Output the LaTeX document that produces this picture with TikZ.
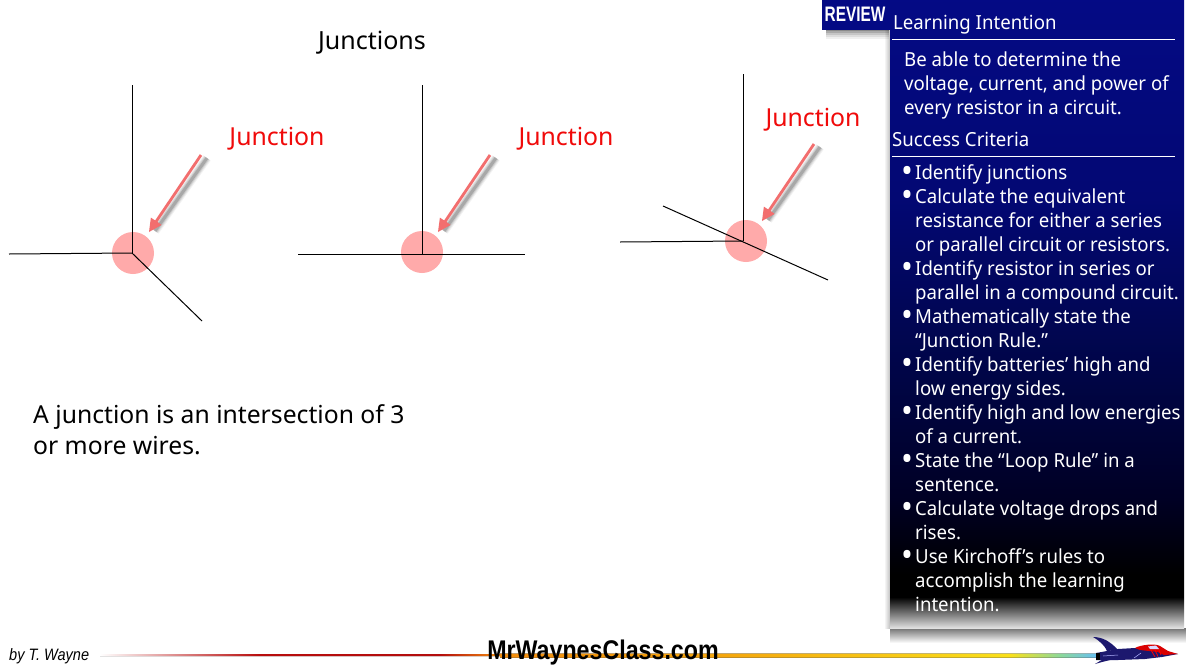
\documentclass[tikz,border=0pt]{standalone}
\usepackage{fontspec}
\usepackage{xcolor}
\usetikzlibrary{calc}
\setmainfont{Noto Sans}
\newfontfamily\paneltype[FakeStretch=0.96]{Noto Sans}
\newfontfamily\logofont[FakeStretch=0.86]{Liberation Sans}
\newfontfamily\tagfont[FakeStretch=0.733]{Liberation Sans}
\newfontfamily\bylinefont[FakeStretch=0.88]{Liberation Sans}
\definecolor{panelNavy}{RGB}{4,10,132}
\definecolor{junctionRed}{RGB}{240,10,10}
\definecolor{spotPink}{RGB}{255,170,170}
\definecolor{arrowPink}{RGB}{242,110,110}
\definecolor{rocketBlue}{RGB}{28,24,110}
\pgfdeclareverticalshading{panelfade}{100bp}{
    rgb(0bp)=(0.88,0.88,0.88);
    rgb(25bp)=(0.88,0.88,0.88);
    rgb(27.47bp)=(0,0,0);
    rgb(29.22bp)=(0,0,0);
    rgb(35.19bp)=(0,0,0.14);
    rgb(44.75bp)=(0,0.02,0.27);
    rgb(59.08bp)=(0.01,0.03,0.45);
    rgb(75bp)=(0.016,0.04,0.52);
    rgb(100bp)=(0.016,0.04,0.52)}
\pgfdeclarehorizontalshading{stripefade}{100bp}{
    rgb(0bp)=(1,1,1);
    rgb(25bp)=(1,1,1);
    rgb(33.02bp)=(0.72,0.05,0.05);
    rgb(42.05bp)=(0.7,0.05,0.05);
    rgb(45.06bp)=(0.95,0.55,0.05);
    rgb(56.09bp)=(0.96,0.65,0.05);
    rgb(70.64bp)=(0.98,0.88,0.1);
    rgb(73.14bp)=(0.55,0.85,0.6);
    rgb(75bp)=(0.4,0.75,0.95);
    rgb(100bp)=(0.4,0.75,0.95)}
\tikzset{
    wire/.style={line width=1pt, black},
    spot/.style={fill=spotPink},
    pointer/.style={line width=2.8pt, arrowPink},
    label/.style={junctionRed, font=\fontsize{24.8}{28}\selectfont},
    paneltext/.style={white, anchor=north west, align=left, inner sep=0pt,
        font=\paneltype\fontsize{19.4}{24}\selectfont},
    panelhead/.style={white, anchor=west, inner sep=0pt, font=\paneltype\fontsize{19.4}{24}\selectfont},
}
\newcommand{\blt}{\llap{\smash{\raisebox{-3.4pt}{\scalebox{1.7}{\textbullet}}}\hspace{1.5pt}}}
% arrow with soft shadow: tail, head
\newcommand{\softarrow}[2]{
    \foreach \w/\o in {9/0.05,7/0.07,5/0.1,3/0.16}
        \draw[line width=\w pt, black, opacity=\o] ($(#1)+(6,3)$) -- ($(#2)+(6,-1)$);
    \draw[pointer] (#1) -- ($(#2)!9pt!(#1)$);
    \fill[arrowPink] (#2) -- ($(#2)!13pt!(#1)!6.5pt!90:(#1)$)
        -- ($(#2)!13pt!(#1)!6.5pt!-90:(#1)$) -- cycle;
}
\begin{document}
\begin{tikzpicture}[x=1pt, y=-1pt]
    \useasboundingbox (0,0) rectangle (1186,667);
    \fill[white] (0,0) rectangle (1186,667);

    % Title
    \node (title) at (372,43) {\fontsize{25}{28}\selectfont Junctions};

    % First junction
    \coordinate (a) at (132,253);
    \coordinate (aUp) at (132,85);
    \coordinate (aLeft) at (9,254);
    \coordinate (aDown) at (202,321);
    \fill[spot] (133,253) circle (21);
    \draw[wire] (aUp) -- (a);
    \draw[wire] (aLeft) -- (a);
    \draw[wire] (a) -- (aDown);
    \coordinate (aTail) at (201,155);
    \coordinate (aHead) at (149,232);
    \softarrow{aTail}{aHead}
    \node[label] (aLabel) at (277,139) {Junction};

    % Second junction
    \coordinate (b) at (422,254);
    \coordinate (bUp) at (422,85);
    \coordinate (bLeft) at (298,254);
    \coordinate (bRight) at (525,254);
    \fill[spot] (422,252) circle (21);
    \draw[wire] (bUp) -- (b);
    \draw[wire] (bLeft) -- (bRight);
    \coordinate (bTail) at (490,155);
    \coordinate (bHead) at (438,232);
    \softarrow{bTail}{bHead}
    \node[label] (bLabel) at (566,139) {Junction};

    % Third junction
    \coordinate (c) at (743,241);
    \coordinate (cUp) at (743,74);
    \coordinate (cLeft) at (620,242);
    \coordinate (cFar) at (663,206);
    \coordinate (cNear) at (828,280);
    \fill[spot] (746,241) circle (21);
    \draw[wire] (cUp) -- (c);
    \draw[wire] (cLeft) -- (c);
    \draw[wire] (cFar) -- (cNear);
    \coordinate (cTail) at (814,144);
    \coordinate (cHead) at (762,221);
    \softarrow{cTail}{cHead}
    \node[label] (cLabel) at (813,120) {Junction};

    % Definition
    \node[anchor=north west, align=left, inner sep=0pt, font=\fontsize{24.7}{31}\selectfont] (defn) at (33,404)
        {A junction is an intersection of 3\\or more wires.};

    % Side panel
    \shade[left color=white, right color=black!25] (884,30) rectangle (890,628);
    \shade[top color=black!55, bottom color=white] (890,628) rectangle (1186,643);
    \fill[shading=panelfade] (890,0) rectangle (1184,628);

    \node[panelhead] (intent) at (893,25) {Learning Intention};
    \draw[white, line width=1pt] (892,39) -- (1175,39);
    \node[paneltext] (intentText) at (904,52)
        {Be able to determine the\\voltage, current, and power of\\every resistor in a circuit.};
    \node[panelhead] (success) at (892,139) {Success Criteria};
    \draw[white, line width=1pt] (892,156) -- (1175,156);
    \node[paneltext] (criteria) at (915,164) {%
        \blt Identify junctions\\
        \blt Calculate the equivalent\\
        resistance for either a series\\
        or parallel circuit or resistors.\\
        \blt Identify resistor in series or\\
        parallel in a compound circuit.\\
        \blt Mathematically state the\\
        “Junction Rule.”\\
        \blt Identify batteries’ high and\\
        low energy sides.\\
        \blt Identify high and low energies\\
        of a current.\\
        \blt State the “Loop Rule” in a\\
        sentence.\\
        \blt Calculate voltage drops and\\
        rises.\\
        \blt Use Kirchoff’s rules to\\
        accomplish the learning\\
        intention.};

    % Review tag
    \foreach \d/\o in {9/0.06,7/0.08,5/0.1,3/0.14,1/0.18}
        \fill[black, opacity=\o] (826,20) rectangle (889,30+\d);
    \fill[panelNavy] (822,0) rectangle (890,30);
    \node[white, inner sep=0pt, font=\tagfont\bfseries\fontsize{21}{22}\selectfont] (review) at (855,14) {REVIEW};

    % Footer stripe
    \fill[shading=stripefade] (100,654.2) -- (500,654.2) -- (500,653.5) -- (1097,653.5)
        -- (1097,657.5) -- (500,657.5) -- (500,656) -- (100,656) -- cycle;

    % Footer text
    \node[anchor=west, inner sep=0pt, font=\bylinefont\fontsize{16.5}{17}\selectfont\itshape] (byline) at (9,656) {by T. Wayne};
    \node[inner sep=0pt, font=\logofont\bfseries\fontsize{27}{28}\selectfont] (site) at (603,653) {MrWaynesClass.com};

    % Rocket
    \fill[rocketBlue] (1093,637) .. controls (1102,637) and (1110,641) .. (1118,650)
        -- (1107,651) .. controls (1105,646) and (1100,641) .. (1093,637) -- cycle;
    \fill[rocketBlue] (1096,653) -- (1118,649) -- (1135,648) -- (1150,650) -- (1167,652) -- (1178,654)
        -- (1162,657) -- (1145,659) -- (1118,660) -- (1096,660) -- cycle;
    \fill[rocketBlue] (1095,664) -- (1105,658) -- (1114,659) -- (1102,662) -- cycle;
    \fill[red!85!black] (1135,648) .. controls (1140,645) and (1155,643) .. (1160,646)
        -- (1168,651) -- (1178,654) -- (1164,655) -- (1158,652) -- (1140,650) -- cycle;
    \fill[white!85!blue] (1148,646.5) -- (1156,645.5) -- (1159,649) -- (1150,649) -- cycle;
    \draw[red, line width=0.8pt] (1151,650) -- (1155,657) (1155,650) -- (1158,656.5) (1159,650) -- (1161,655);
    \fill[black] (1096,653) rectangle (1100,660);
    \draw[blue!30!white, line width=0.5pt] (1103,656) -- (1118,655) (1134,658) -- (1141,653);
\end{tikzpicture}
\end{document}
